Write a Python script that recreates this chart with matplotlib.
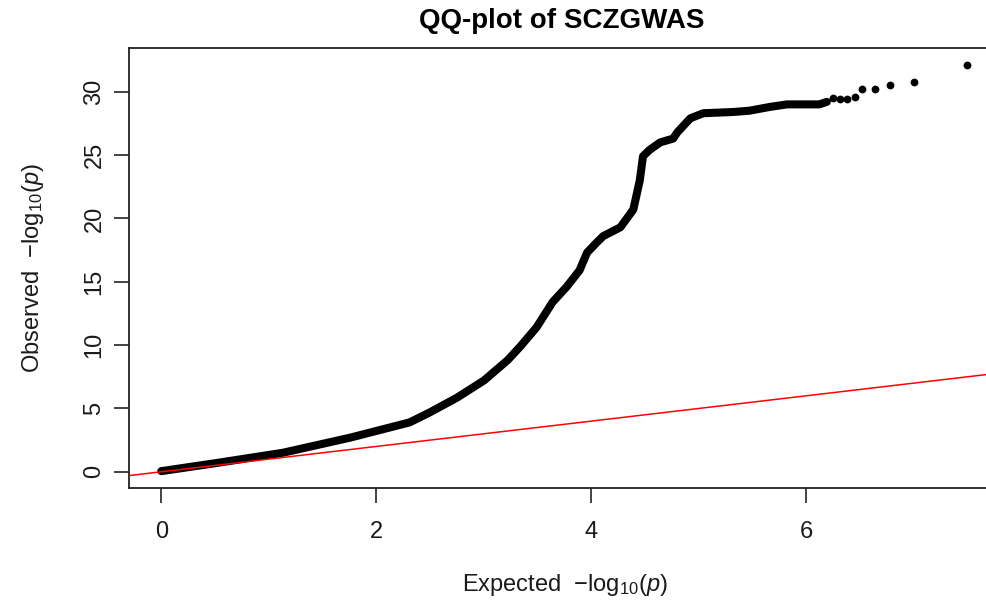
import matplotlib
matplotlib.use("Agg")
import matplotlib.pyplot as plt

# Data (expected vs observed -log10 p)
exp_curve = [0.0, 0.52, 1.13, 1.76, 2.31, 2.50, 2.75, 3.00, 3.22, 3.34, 3.49, 3.64,
             3.77, 3.89, 3.96, 4.05, 4.11, 4.27, 4.39, 4.45, 4.48, 4.54, 4.64, 4.76,
             4.80, 4.92, 5.04, 5.32, 5.47, 5.66, 5.82, 6.12, 6.19]
obs_curve = [0.05, 0.7, 1.5, 2.7, 3.9, 4.7, 5.85, 7.2, 8.8, 9.9, 11.4, 13.4,
             14.6, 15.9, 17.3, 18.1, 18.6, 19.3, 20.7, 23.0, 24.9, 25.4, 26.0, 26.3,
             26.8, 27.9, 28.3, 28.4, 28.5, 28.8, 29.0, 29.0, 29.2]
exp_top = [6.25, 6.31, 6.38, 6.45, 6.52, 6.64, 6.78, 7.00, 7.49]
obs_top = [29.5, 29.4, 29.4, 29.6, 30.2, 30.2, 30.5, 30.8, 32.1]

x_ticks = [0, 2, 4, 6]
y_ticks = [0, 5, 10, 15, 20, 25, 30]
title = "QQ-plot of SCZGWAS"

plt.rcParams['font.family'] = ['Liberation Sans', 'DejaVu Sans']
plt.rcParams['mathtext.fontset'] = 'custom'
plt.rcParams['mathtext.rm'] = 'Liberation Sans'
plt.rcParams['mathtext.it'] = 'Liberation Sans:italic'

fig = plt.figure(figsize=(9.86, 6.01), dpi=100)
ax = fig.add_axes([129/986, 113/601, 871/986, 440/601])

ax.plot(exp_curve, obs_curve, color='black', lw=5.8,
        solid_capstyle='round', solid_joinstyle='round', zorder=2)
ax.plot(exp_top, obs_top, 'o', color='black', ms=5.6, mew=0, zorder=2)
ax.axline((0, 0), slope=1, color='red', lw=1.1, zorder=3)

ax.set_xlim(-0.3, 7.8)
ax.set_ylim(-1.28, 33.45)
ax.set_xticks(x_ticks)
ax.set_yticks(y_ticks)

axis_col = '#222222'
for s in ax.spines.values():
    s.set_color(axis_col)
    s.set_linewidth(1.3)
ax.spines['right'].set_visible(False)

ax.tick_params(axis='both', direction='out', length=10.5, width=1.2,
               color=axis_col, labelsize=17, labelcolor='#1a1a1a')
ax.tick_params(axis='x', pad=13)
ax.tick_params(axis='y', pad=6.5)
for lab in ax.get_yticklabels():
    lab.set_rotation(90)
    lab.set_va('center')

ax.set_xlabel(r'Expected  $-$log$_{10}$($p$)', fontsize=17, color='#1a1a1a', labelpad=21)
ax.set_ylabel(r'Observed  $-$log$_{10}$($p$)', fontsize=17, color='#1a1a1a', labelpad=27)
fig.text(562/986, 1 - 21/601, title, ha='center', va='center',
         fontsize=20, fontweight='bold')

fig.savefig('out.png', dpi=100)
